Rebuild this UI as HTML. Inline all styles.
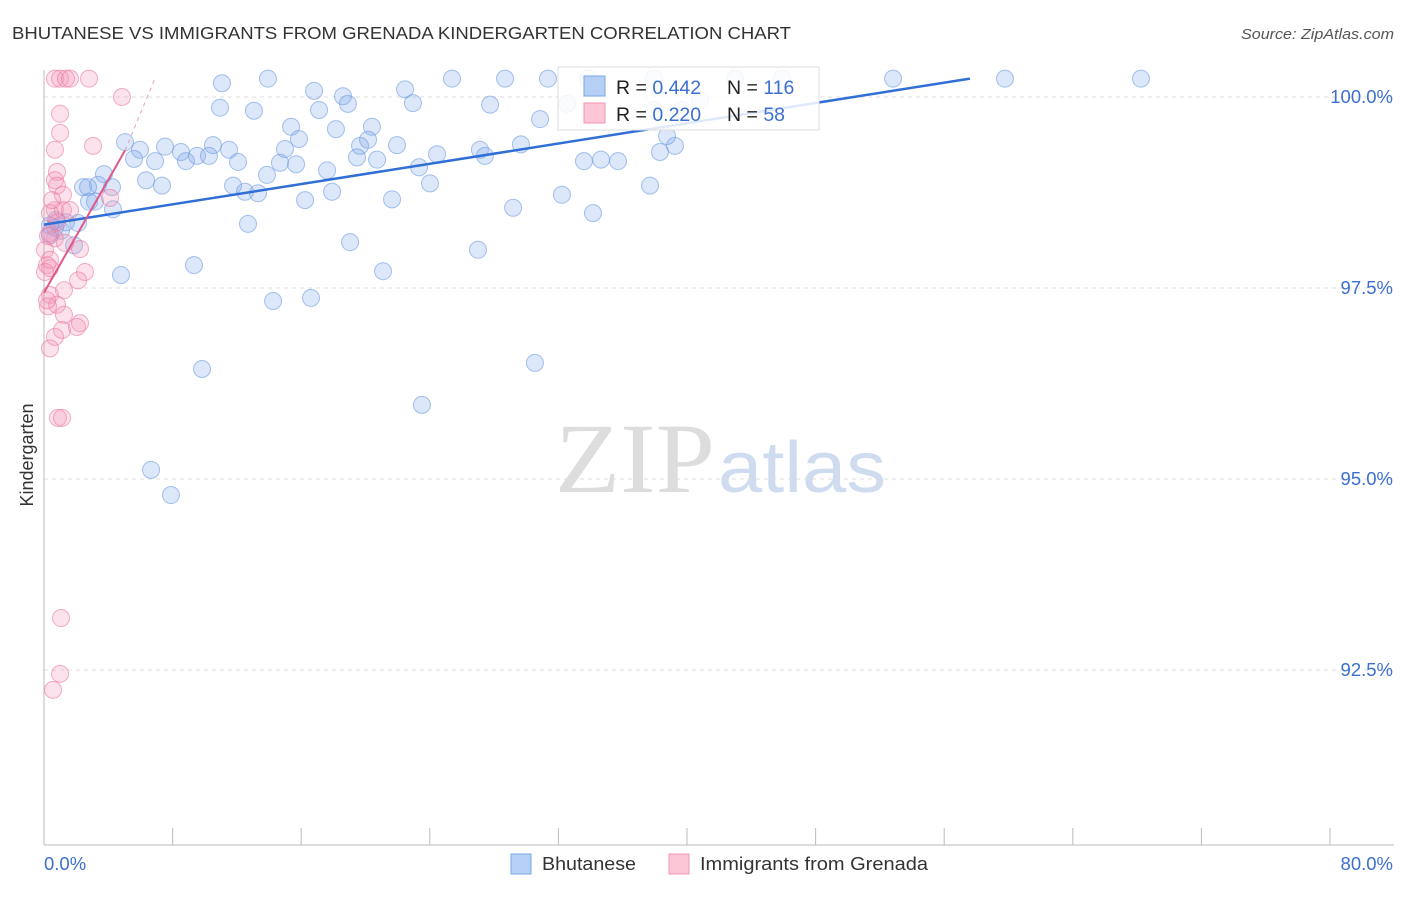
<!DOCTYPE html>
<html><head><meta charset="utf-8"><style>
body{margin:0;background:#fff;width:1406px;height:892px;overflow:hidden;font-family:"Liberation Sans",sans-serif}
</style></head><body>
<svg id="chart" width="1406" height="892" xmlns="http://www.w3.org/2000/svg">
<text x="12" y="39" font-size="17.5" fill="#333" textLength="779" lengthAdjust="spacingAndGlyphs">BHUTANESE VS IMMIGRANTS FROM GRENADA KINDERGARTEN CORRELATION CHART</text>
<text x="1241" y="39" font-size="15" fill="#555" font-style="italic" textLength="153" lengthAdjust="spacingAndGlyphs">Source: ZipAtlas.com</text>
<text x="0" y="0" transform="translate(33,455) rotate(-90)" font-size="18" fill="#333" text-anchor="middle">Kindergarten</text>
<g><text x="555" y="492" font-family="Liberation Serif,serif" font-size="100" fill="#ddd" textLength="160" lengthAdjust="spacingAndGlyphs">ZIP</text><text x="718" y="492" font-size="72" fill="#cfdcf0" textLength="168" lengthAdjust="spacingAndGlyphs">atlas</text></g>
<g id="grid"></g><g id="axes"></g><g id="marks"></g><g id="lines"></g>
<g>
<rect x="558" y="67" width="261" height="63" fill="rgba(255,255,255,0.85)" stroke="#ddd"/>
<rect x="584" y="76" width="21" height="20" fill="#b6d0f5" stroke="#7aa6e6"/>
<rect x="584" y="103" width="21" height="20" fill="#fcc6d6" stroke="#f095b4"/>
<text x="616" y="94" font-size="19.5" fill="#222">R = <tspan fill="#3d6fd0">0.442</tspan></text>
<text x="727" y="94" font-size="19.5" fill="#222">N = <tspan fill="#3d6fd0">116</tspan></text>
<text x="616" y="121" font-size="19.5" fill="#222">R = <tspan fill="#3d6fd0">0.220</tspan></text>
<text x="727" y="121" font-size="19.5" fill="#222">N = <tspan fill="#3d6fd0"> 58</tspan></text>
</g>
<g>
<rect x="511" y="854" width="20" height="20" fill="#b6d0f5" stroke="#7aa6e6"/>
<text x="542" y="870" font-size="18" fill="#333" textLength="94" lengthAdjust="spacingAndGlyphs">Bhutanese</text>
<rect x="669" y="854" width="20" height="20" fill="#fcc6d6" stroke="#f095b4"/>
<text x="700" y="870" font-size="18" fill="#333" textLength="228" lengthAdjust="spacingAndGlyphs">Immigrants from Grenada</text>
</g>
</svg>
<script>
const yTicks=[100,97.5,95,92.5];
const yTickLabels=["100.0%","97.5%","95.0%","92.5%"];
const xTicks=[0,8,16,24,32,40,48,56,64,72,80];
const xEndLabels=["0.0%","80.0%"];
const blueX=[11.07,13.93,25.38,28.68,31.35,33.84,37.95,42.99,45.91,52.82,59.78,68.24,16.80,18.60,22.46,10.95,13.06,17.11,18.91,22.95,27.75,30.86,32.54,37.95,39.69,40.81,15.37,18.16,20.40,5.04,5.97,7.53,8.52,10.51,11.51,14.99,15.86,19.66,20.16,21.96,27.12,29.67,39.25,38.76,5.60,6.91,8.83,9.52,10.26,12.07,14.68,15.68,19.47,20.72,23.33,24.45,27.43,33.59,34.65,35.71,38.32,6.35,7.34,11.76,12.50,13.31,13.87,17.61,17.92,21.65,24.01,32.22,37.70,2.43,3.36,3.73,4.23,3.17,4.29,16.24,29.18,34.15,12.69,2.12,1.06,0.68,0.37,1.87,19.04,27.00,9.33,4.79,21.09,14.25,16.61,9.83,30.54,23.51,6.66,7.90,2.74,0.37,0.75,1.37,2.80];
const blueY=[100.18,100.24,100.24,100.24,100.24,100.24,100.24,100.24,100.24,100.24,100.24,100.24,100.08,100.01,100.10,99.86,99.82,99.83,99.91,99.92,99.90,99.71,99.91,99.83,99.83,99.96,99.61,99.58,99.61,99.41,99.31,99.35,99.28,99.37,99.31,99.32,99.45,99.36,99.44,99.37,99.31,99.38,99.36,99.49,99.19,99.16,99.16,99.23,99.23,99.15,99.14,99.12,99.21,99.18,99.08,99.25,99.23,99.16,99.18,99.16,99.28,98.91,98.84,98.84,98.76,98.74,98.98,99.04,98.76,98.66,98.87,98.72,98.84,98.82,98.85,98.99,98.82,98.63,98.53,98.65,98.55,98.48,98.34,98.35,98.25,98.29,98.19,98.06,98.10,98.00,97.80,97.67,97.72,97.33,97.37,96.44,96.52,95.97,95.12,94.79,98.82,98.32,98.39,98.36,98.63];
const pinkX=[0.68,1.00,1.37,1.62,2.80,4.85,1.00,1.00,0.68,3.05,0.81,0.68,0.81,1.18,4.11,0.68,1.18,0.37,0.81,0.37,0.68,1.31,2.24,0.19,0.37,0.06,2.55,2.12,1.24,0.37,0.81,0.25,1.24,2.24,2.05,1.12,0.68,0.37,0.87,1.12,1.06,1.00,0.56,0.06,0.25,0.50,1.62,0.19,0.37];
const pinkY=[100.24,100.24,100.24,100.24,100.24,100.00,99.78,99.53,99.31,99.36,99.02,98.91,98.84,98.72,98.68,98.52,98.52,98.48,98.36,98.22,98.15,98.09,98.01,97.80,97.76,97.71,97.71,97.60,97.47,97.41,97.28,97.26,97.15,97.04,96.99,96.95,96.86,96.71,95.80,95.80,93.18,92.45,92.24,98.00,98.18,98.65,98.52,97.34,97.87];
const blueTrendX=[0,57.6];const blueTrendY=[98.33,100.24];
const pinkTrendX=[0,5.04,6.9];const pinkTrendY=[97.44,99.3,100.24];

const NS="http://www.w3.org/2000/svg";
const sx=v=>44+v*16.075;
const sy=v=>97+(100-v)*76.4;
function mk(tag,attrs,parent){const e=document.createElementNS(NS,tag);for(const k in attrs)e.setAttribute(k,attrs[k]);document.getElementById(parent).appendChild(e);return e;}
yTicks.forEach((t,i)=>{
  const l=mk('line',{x1:44,x2:1394,y1:sy(t),y2:sy(t),stroke:'#ddd','stroke-dasharray':'4,4'},'grid');
  
  
  const tx=mk('text',{x:1393,y:sy(t)+6,'font-size':18.5,fill:'#3d6fd0','text-anchor':'end'},'axes');
  tx.textContent=yTickLabels[i];
  
  
});
const ax=mk('line',{x1:44,x2:44,y1:70,y2:845,stroke:'#bbb'},'axes');


const bx=mk('line',{x1:44,x2:1394,y1:845,y2:845,stroke:'#bbb'},'axes');


xTicks.forEach(t=>{
  const l=mk('line',{x1:sx(t),x2:sx(t),y1:828,y2:845,stroke:'#bbb'},'axes');
  
  
});
const xl0=mk('text',{x:44,y:870,'font-size':18.5,fill:'#3d6fd0'},'axes');xl0.textContent=xEndLabels[0];


const xl1=mk('text',{x:1393,y:870,'font-size':18.5,fill:'#3d6fd0','text-anchor':'end'},'axes');xl1.textContent=xEndLabels[1];


blueX.forEach((v,i)=>{
  const c=mk('circle',{cx:sx(v),cy:sy(blueY[i]),r:8.5,fill:'rgba(130,170,235,0.28)',stroke:'rgba(110,155,225,0.6)','stroke-width':1},'marks');
  
  
});
pinkX.forEach((v,i)=>{
  const c=mk('circle',{cx:sx(v),cy:sy(pinkY[i]),r:8.5,fill:'rgba(245,150,185,0.28)',stroke:'rgba(235,120,160,0.6)','stroke-width':1},'marks');
  
  
});
const bl=mk('line',{x1:sx(blueTrendX[0]),y1:sy(blueTrendY[0]),x2:sx(blueTrendX[1]),y2:sy(blueTrendY[1]),stroke:'#2f6fd6','stroke-width':2.5},'lines');


const pl=mk('line',{x1:sx(pinkTrendX[0]),y1:sy(pinkTrendY[0]),x2:sx(pinkTrendX[1]),y2:sy(pinkTrendY[1]),stroke:'#e0578a','stroke-width':2},'lines');


const pd=mk('line',{x1:sx(pinkTrendX[1]),y1:sy(pinkTrendY[1]),x2:sx(pinkTrendX[2]),y2:sy(pinkTrendY[2]),stroke:'#e8a0b8','stroke-width':1,'stroke-dasharray':'4,4'},'lines');


</script>
</body></html>
